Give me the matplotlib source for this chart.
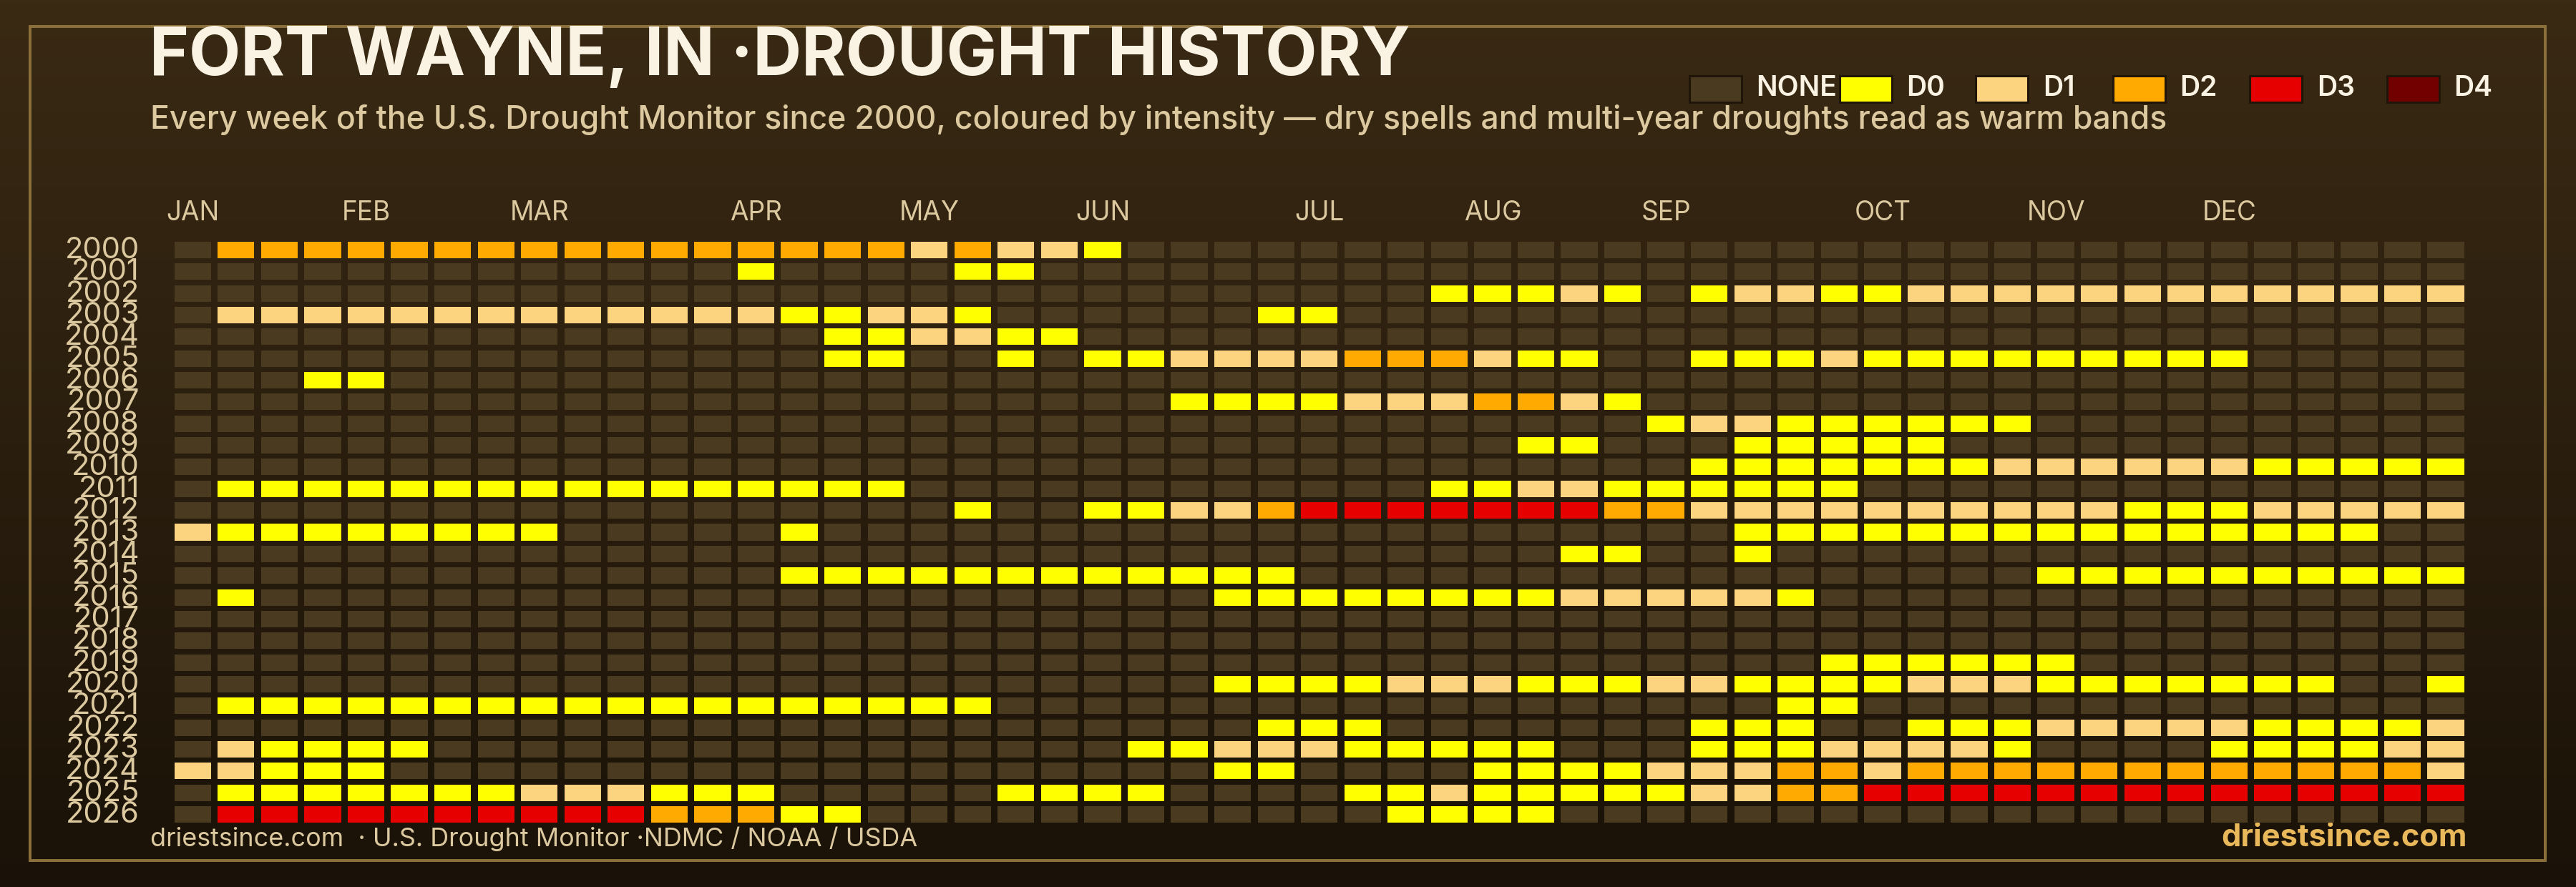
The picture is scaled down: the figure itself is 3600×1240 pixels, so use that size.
import matplotlib
matplotlib.use("Agg")
import matplotlib.pyplot as plt
import numpy as np
from matplotlib.patches import Rectangle

W, H = 3600, 1240
FONT = "Inter"

years = list(range(2000, 2027))
month_names = ['JAN', 'FEB', 'MAR', 'APR', 'MAY', 'JUN', 'JUL', 'AUG', 'SEP', 'OCT', 'NOV', 'DEC']
month_weeks = [0, 4, 8, 13, 17, 21, 26, 30, 34, 39, 43, 47]
levels = ['NONE', 'D0', 'D1', 'D2', 'D3', 'D4']
level_colors = ['#4a3a1f', '#ffff00', '#fcd37f', '#ffaa00', '#e60000', '#730000']

# dry spells per year: (first week, last week, level), everything else is NONE
y2000 = [(1, 16, 3), (17, 17, 2), (18, 18, 3), (19, 20, 2), (21, 21, 1)]
y2001 = [(13, 13, 1), (18, 19, 1)]
y2002 = [(29, 31, 1), (32, 32, 2), (33, 33, 1), (35, 35, 1), (36, 37, 2), (38, 39, 1), (40, 52, 2)]
y2003 = [(1, 13, 2), (14, 15, 1), (16, 17, 2), (18, 18, 1), (25, 26, 1)]
y2004 = [(15, 16, 1), (17, 18, 2), (19, 20, 1)]
y2005 = [(15, 16, 1), (19, 19, 1), (21, 22, 1), (23, 26, 2), (27, 29, 3), (30, 30, 2), (31, 32, 1),
         (35, 37, 1), (38, 38, 2), (39, 47, 1)]
y2006 = [(3, 4, 1)]
y2007 = [(23, 26, 1), (27, 29, 2), (30, 31, 3), (32, 32, 2), (33, 33, 1)]
y2008 = [(34, 34, 1), (35, 36, 2), (37, 42, 1)]
y2009 = [(31, 32, 1), (36, 40, 1)]
y2010 = [(35, 41, 1), (42, 47, 2), (48, 52, 1)]
y2011 = [(1, 16, 1), (29, 30, 1), (31, 32, 2), (33, 38, 1)]
y2012 = [(18, 18, 1), (21, 22, 1), (23, 24, 2), (25, 25, 3), (26, 32, 4), (33, 34, 3), (35, 44, 2),
         (45, 47, 1), (48, 52, 2)]
y2013 = [(0, 0, 2), (1, 8, 1), (14, 14, 1), (36, 50, 1)]
y2014 = [(32, 33, 1), (36, 36, 1)]
y2015 = [(14, 25, 1), (43, 52, 1)]
y2016 = [(1, 1, 1), (24, 31, 1), (32, 36, 2), (37, 37, 1)]
y2017 = []
y2018 = []
y2019 = [(38, 43, 1)]
y2020 = [(24, 27, 1), (28, 30, 2), (31, 33, 1), (34, 35, 2), (36, 39, 1), (40, 42, 2), (43, 49, 1), (52, 52, 1)]
y2021 = [(1, 18, 1), (37, 38, 1)]
y2022 = [(25, 27, 1), (35, 37, 1), (40, 42, 1), (43, 47, 2), (48, 51, 1), (52, 52, 2)]
y2023 = [(1, 1, 2), (2, 5, 1), (22, 23, 1), (24, 26, 2), (27, 31, 1), (35, 37, 1), (38, 41, 2), (42, 42, 1),
         (47, 50, 1), (51, 52, 2)]
y2024 = [(0, 1, 2), (2, 4, 1), (24, 25, 1), (30, 33, 1), (34, 36, 2), (37, 38, 3), (39, 39, 2), (40, 51, 3), (52, 52, 2)]
y2025 = [(1, 7, 1), (8, 10, 2), (11, 13, 1), (19, 22, 1), (27, 28, 1), (29, 29, 2), (30, 34, 1), (35, 36, 2),
         (37, 38, 3), (39, 52, 4)]
y2026 = [(1, 10, 4), (11, 13, 3), (14, 15, 1), (28, 31, 1)]
spells = [y2000, y2001, y2002, y2003, y2004, y2005, y2006, y2007, y2008, y2009, y2010, y2011, y2012, y2013,
          y2014, y2015, y2016, y2017, y2018, y2019, y2020, y2021, y2022, y2023, y2024, y2025, y2026]

grid = np.zeros((len(years), 53), dtype=int)
for row, spell_list in enumerate(spells):
    for first, last, level in spell_list:
        grid[row, first:last + 1] = level

fig = plt.figure(figsize=(W / 200, H / 200), dpi=200)

# page axes in pixels: gradient, frame, titles, legend
page = fig.add_axes([0, 0, 1, 1])
page.set_xlim(0, W)
page.set_ylim(H, 0)
page.axis('off')
bg_top = np.array([0x3a, 0x2a, 0x14]) / 255
bg_bot = np.array([0x1a, 0x12, 0x08]) / 255
t = np.linspace(0, 1, 256)[:, None, None]
page.imshow(bg_top * (1 - t) + bg_bot * t, extent=[0, W, H, 0], aspect='auto', zorder=0)
page.add_patch(Rectangle((42, 37), 3515, 1166, fill=False, ec='#8a6f3a', lw=1.44, zorder=1))

cream = '#faf3e3'
tan = '#dcc9a0'
page.text(209, 105, 'FORT WAYNE, IN ·DROUGHT HISTORY', color=cream, fontsize=33.8, fontweight='bold',
          family=FONT, va='baseline', zorder=3)
page.text(210, 180, 'Every week of the U.S. Drought Monitor since 2000, coloured by intensity — '
          'dry spells and multi-year droughts read as warm bands', color=tan, fontsize=16.05,
          fontweight='medium', family=FONT, va='baseline', zorder=3)
page.text(210, 1183, 'driestsince.com  · U.S. Drought Monitor ·NDMC / NOAA / USDA', color=tan, fontsize=12.95,
          family=FONT, va='baseline', zorder=3)
page.text(3448, 1183, 'driestsince.com', color='#e8b85a', fontsize=15.6, fontweight='bold', family=FONT,
          ha='right', va='baseline', zorder=3)

swatch_x = [2361, 2571, 2761, 2953, 3144, 3336]
label_x = [2454, 2664, 2855, 3046, 3238, 3429]
for level, name in enumerate(levels):
    page.add_patch(Rectangle((swatch_x[level], 106), 73, 37, fc=level_colors[level], ec='#1f1509', lw=1.1, zorder=2))
    page.text(label_x[level], 134, name, color=cream, fontsize=14, fontweight='semibold', family=FONT,
              va='baseline', zorder=3)

# heatmap axes: one unit per week / year
ax = fig.add_axes([239 / W, 1 - 1153.7 / H, (3448.4 - 239) / W, (1153.7 - 334.3) / H])
ax.set_xlim(-0.5, 52.5)
ax.set_ylim(len(years) - 0.5, -0.5)
ax.patch.set_alpha(0)
for side in ax.spines.values():
    side.set_visible(False)

cell_w, cell_h = 0.847, 0.758
for row in range(grid.shape[0]):
    for week in range(grid.shape[1]):
        ax.add_patch(Rectangle((week - cell_w / 2, row - cell_h / 2), cell_w, cell_h,
                               fc=level_colors[grid[row, week]], ec='none'))

ax.xaxis.tick_top()
ax.set_xticks(month_weeks, month_names, color=tan, fontsize=13.3, family=FONT, va='baseline')
ax.set_yticks(np.arange(len(years)) + 0.38, years, color=tan, fontsize=15, family=FONT, va='baseline')
ax.tick_params(length=0)
ax.tick_params(axis='x', pad=9.6)
ax.tick_params(axis='y', pad=15.8)

fig.savefig('out.png', dpi=200)
